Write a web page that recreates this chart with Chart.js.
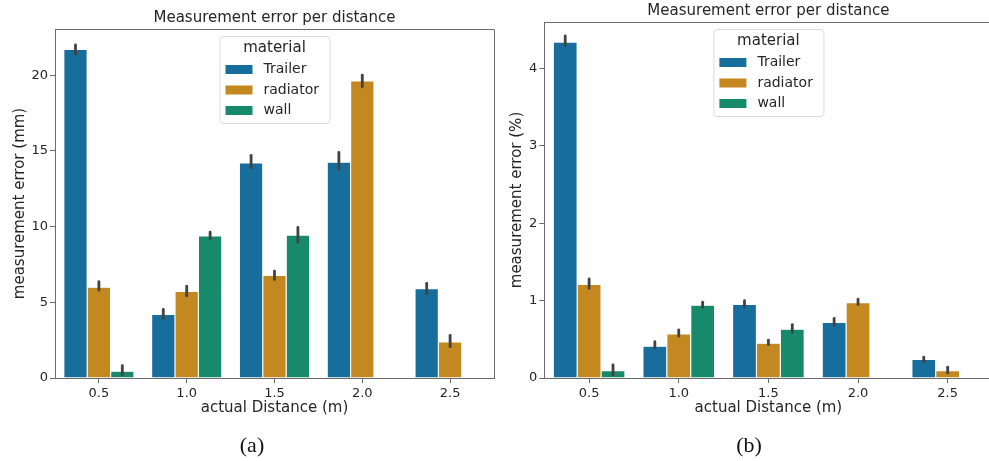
<!DOCTYPE html>
<html>
<head>
<meta charset="utf-8">
<script src="https://cdn.jsdelivr.net/npm/chart.js@4.4.1/dist/chart.umd.min.js"></script>
<style>
  html, body { margin: 0; padding: 0; background: #fff; overflow: hidden; width: 989px; height: 461px; }
  .box { position: absolute; top: 0; width: 500px; height: 461px; }
  .cap { position: absolute; top: 432px; line-height: 26px; font-family: "Liberation Serif", "DejaVu Serif", serif;
         font-size: 22px; color: #111; transform: translateX(-50%); }
</style>
</head>
<body>
<div class="box" style="left:0"><canvas id="chartMm" width="500" height="461"></canvas></div>
<div class="box" style="left:497px"><canvas id="chartPct" width="500" height="461"></canvas></div>
<div class="cap" style="left:252px">(a)</div>
<div class="cap" style="left:749px">(b)</div>
<script>
// categories and series
const distances = ['0.5', '1.0', '1.5', '2.0', '2.5'];
const materials = ['Trailer', 'radiator', 'wall'];
const colors = ['#176d9c', '#c3881f', '#168a6a'];

// (a) error in mm, bar = mean, CI = [low, high]
const trailerMm = [21.7, 4.2, 14.2, 14.25, 5.9];
const radiatorMm = [6.0, 5.72, 6.78, 19.63, 2.38];
const wallMm = [0.45, 9.39, 9.44, null, null];
const trailerMmCI = [[21.4, 22.0], [3.94, 4.53], [13.88, 14.7], [13.78, 14.9], [5.56, 6.25]];
const radiatorMmCI = [[5.81, 6.36], [5.43, 6.07], [6.51, 7.06], [19.23, 20.0], [2.07, 2.82]];
const wallMmCI = [[0.2, 0.81], [9.19, 9.64], [8.96, 9.94], null, null];

// (b) error in percent
const trailerPct = [4.34, 0.41, 0.95, 0.72, 0.24];
const radiatorPct = [1.21, 0.57, 0.45, 0.975, 0.095];
const wallPct = [0.096, 0.94, 0.63, null, null];
const trailerPctCI = [[4.30, 4.42], [0.39, 0.47], [0.92, 1.0], [0.68, 0.77], [0.21, 0.27]];
const radiatorPctCI = [[1.16, 1.28], [0.54, 0.62], [0.43, 0.49], [0.95, 1.02], [0.065, 0.14]];
const wallPctCI = [[0.04, 0.17], [0.91, 0.98], [0.59, 0.69], null, null];

const FONT = '"DejaVu Sans", Verdana, sans-serif';
const TEXT = '#262626';
const SPINE = '#6b6b6b';

// error bars, top/right spines, chart title, legend
const extras = {
  id: 'extras',
  afterDatasetsDraw(chart, args, opts) {
    const ctx = chart.ctx;
    const y = chart.scales.y;
    ctx.save();
    ctx.strokeStyle = '#424242';
    ctx.lineWidth = 2.8;
    ctx.lineCap = 'round';
    opts.ci.forEach((ci, i) => {
      const meta = chart.getDatasetMeta(i);
      ci.forEach((r, j) => {
        if (!r) return;
        const x = meta.data[j].x;
        ctx.beginPath();
        ctx.moveTo(x, y.getPixelForValue(r[0]));
        ctx.lineTo(x, y.getPixelForValue(r[1]));
        ctx.stroke();
      });
    });
    ctx.restore();
  },
  afterDraw(chart, args, opts) {
    const ctx = chart.ctx;
    const a = chart.chartArea;
    ctx.save();
    // spines
    ctx.strokeStyle = SPINE;
    ctx.lineWidth = 1;
    ctx.beginPath();
    ctx.moveTo(a.left, a.top + 0.5);
    ctx.lineTo(a.right + 0.5, a.top + 0.5);
    ctx.lineTo(a.right + 0.5, a.bottom);
    ctx.stroke();
    // title
    const cx = (a.left + a.right) / 2;
    ctx.fillStyle = TEXT;
    ctx.font = '15px ' + FONT;
    ctx.textAlign = 'center';
    ctx.textBaseline = 'middle';
    ctx.fillText(opts.title, cx, a.top - 11);
    // legend
    const w = 110, h = 87;
    const lx = cx - w / 2, ly = a.top + 7;
    ctx.beginPath();
    ctx.roundRect(lx + 0.5, ly + 0.5, w, h, 3);
    ctx.fillStyle = 'rgba(255,255,255,0.8)';
    ctx.fill();
    ctx.strokeStyle = '#dcdcdc';
    ctx.stroke();
    ctx.fillStyle = TEXT;
    ctx.fillText('material', cx, ly + 12);
    ctx.font = '14px ' + FONT;
    ctx.textAlign = 'left';
    chart.data.datasets.forEach((ds, i) => {
      const ry = ly + 33.5 + i * 20.5;
      ctx.fillStyle = ds.backgroundColor;
      ctx.fillRect(lx + 6, ry - 4.5, 27, 9);
      ctx.fillStyle = TEXT;
      ctx.fillText(ds.label, lx + 44, ry);
    });
    ctx.restore();
  }
};

function makeChart(id, series, ci, yMax, yTitle, pad, yWidth, titlePadLeft) {
  return new Chart(document.getElementById(id), {
    type: 'bar',
    data: {
      labels: distances,
      datasets: series.map((vals, i) => ({
        label: materials[i],
        data: vals,
        backgroundColor: colors[i],
        borderColor: 'rgba(255,255,255,0.4)',
        borderWidth: 0.6,
        barPercentage: 1,
        categoryPercentage: 0.8
      }))
    },
    options: {
      responsive: false,
      animation: false,
      devicePixelRatio: 1,
      layout: { padding: pad },
      plugins: {
        legend: { display: false },
        tooltip: { enabled: false },
        extras: { ci: ci, title: 'Measurement error per distance' }
      },
      scales: {
        x: {
          offset: true,
          grid: { offset: false, drawOnChartArea: false, drawTicks: true, tickLength: 5, color: SPINE },
          border: { display: true, color: SPINE },
          ticks: { color: TEXT, font: { family: FONT, size: 13 }, padding: 3, maxRotation: 0 },
          title: { display: true, text: 'actual Distance (m)', color: TEXT,
                   font: { family: FONT, size: 15 }, padding: { top: 0, bottom: 44 } },
          afterFit(s) { s.height = 83; }
        },
        y: {
          min: 0,
          max: yMax,
          grid: { drawOnChartArea: false, drawTicks: true, tickLength: 5, color: SPINE },
          border: { display: true, color: SPINE },
          ticks: { stepSize: yMax > 10 ? 5 : 1, includeBounds: false, color: TEXT,
                   font: { family: FONT, size: 13 }, padding: 2 },
          title: { display: true, text: yTitle, color: TEXT,
                   font: { family: FONT, size: 15 }, padding: { top: titlePadLeft, bottom: 0 } },
          afterFit(s) { s.width = yWidth; }
        }
      }
    },
    plugins: [extras]
  });
}

makeChart('chartMm', [trailerMm, radiatorMm, wallMm], [trailerMmCI, radiatorMmCI, wallMmCI],
  23.05, 'measurement error (mm)', { top: 29, right: 6, bottom: 0, left: 0 }, 55, 11);
makeChart('chartPct', [trailerPct, radiatorPct, wallPct], [trailerPctCI, radiatorPctCI, wallPctCI],
  4.6, 'measurement error (%)', { top: 22, right: 4.5, bottom: 0, left: 0 }, 47.3, 10.7);
</script>
</body>
</html>
